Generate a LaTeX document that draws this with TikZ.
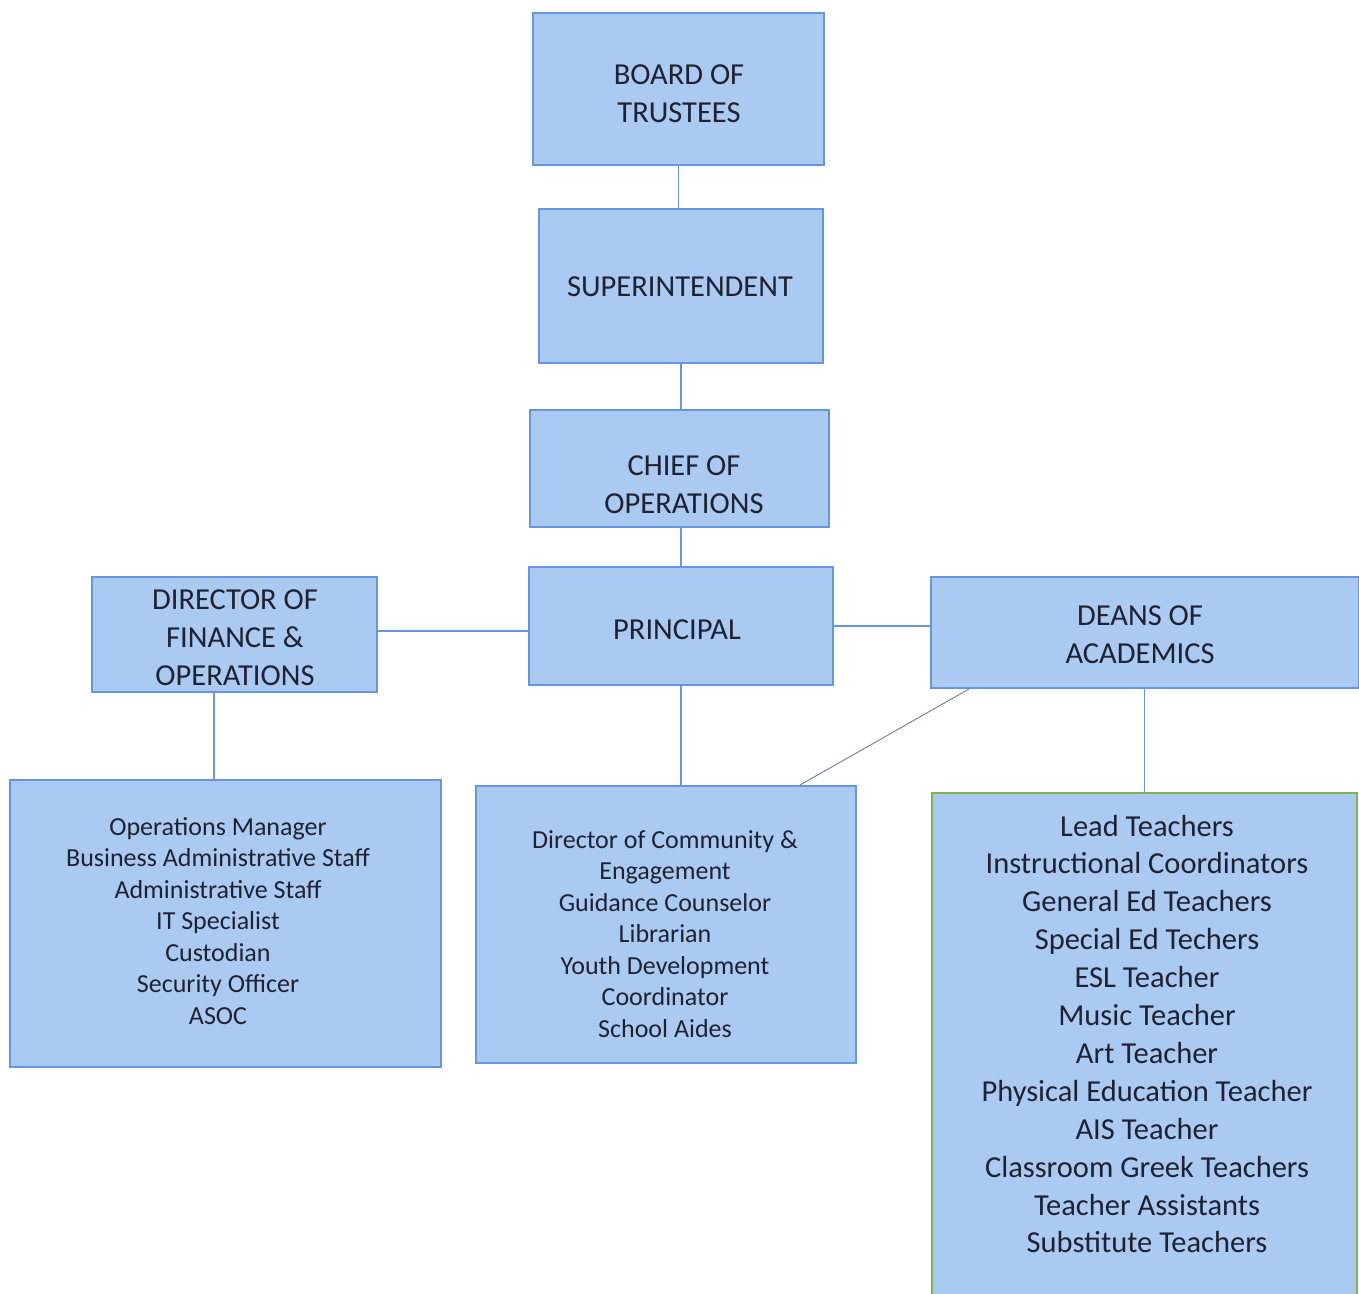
\documentclass[tikz,border=0pt]{standalone}
\usepackage{fontspec}
\setmainfont{Carlito}
\definecolor{boxfill}{RGB}{170,202,241}
\definecolor{boxline}{RGB}{100,150,225}
\definecolor{greenline}{RGB}{125,180,75}
\definecolor{txt}{RGB}{30,34,50}
\definecolor{diag}{RGB}{115,135,165}
\begin{document}
\begin{tikzpicture}[x=1pt,y=-1pt,
  box/.style={draw=boxline, line width=2pt, fill=boxfill, inner sep=0pt},
  lbl/.style={text=txt, align=center, inner sep=0pt},
  title/.style={lbl, font=\fontsize{30.5}{38}\selectfont},
  small/.style={lbl, font=\fontsize{26}{31.5}\selectfont},
  big/.style={lbl, font=\fontsize{30.5}{37.9}\selectfont},
  conn/.style={draw=boxline, line width=1.5pt},
  diagconn/.style={draw=diag, line width=1pt}]
\clip (0,0) rectangle (1359,1293);
\useasboundingbox (0,0) rectangle (1359,1293);

% boxes
\node[box, minimum width=291pt, minimum height=152pt] (board) at (678.5,89) {};
\node[box, minimum width=284pt, minimum height=154pt] (super) at (681,286) {};
\node[box, minimum width=299pt, minimum height=117pt] (chief) at (679.5,468.5) {};
\node[box, minimum width=304pt, minimum height=118pt] (principal) at (681,626) {};
\node[box, minimum width=285pt, minimum height=115pt] (director) at (234.5,634.5) {};
\node[box, minimum width=428pt, minimum height=111pt] (deans) at (1145,632.5) {};
\node[box, minimum width=431pt, minimum height=287pt] (ops) at (225.5,923.5) {};
\node[box, minimum width=380pt, minimum height=277pt] (mid) at (666,924.5) {};
\node[box, draw=greenline, minimum width=425pt, minimum height=520pt] (teach) at (1144.5,1053) {};

% texts
\node[title] (boardtxt) at (679,94) {BOARD OF\\TRUSTEES};
\node[title] (supertxt) at (680,287) {SUPERINTENDENT};
\node[title] (chieftxt) at (684,485) {CHIEF OF\\OPERATIONS};
\node[title] (principaltxt) at (677,630) {PRINCIPAL};
\node[title] (directortxt) at (235,638) {DIRECTOR OF\\FINANCE \&\\OPERATIONS};
\node[title] (deanstxt) at (1140,635) {DEANS OF\\ACADEMICS};
\node[small] (opstxt) at (218,921) {Operations Manager\\Business Administrative Staff\\Administrative Staff\\IT Specialist\\Custodian\\Security Officer\\ASOC};
\node[small] (midtxt) at (665,934) {Director of Community \&\\Engagement\\Guidance Counselor\\Librarian\\Youth Development\\Coordinator\\School Aides};
\node[big] (teachtxt) at (1147,1034) {Lead Teachers\\Instructional Coordinators\\General Ed Teachers\\Special Ed Techers\\ESL Teacher\\Music Teacher\\Art Teacher\\Physical Education Teacher\\AIS Teacher\\Classroom Greek Teachers\\Teacher Assistants\\Substitute Teachers};

% connectors
\coordinate (dl) at (214,692);
\coordinate (dr) at (377,631);
\draw[conn] (board.south) -- (board.south |- super.north);
\draw[conn] (super.south) -- (super.south |- chief.north);
\draw[conn] (principal.north) -- (principal.north |- chief.south);
\draw[conn] (dr) -- (dr -| principal.west);
\draw[conn] (principal.east) -- (principal.east -| deans.west);
\draw[conn] (dl) -- (dl |- ops.north);
\draw[conn] (principal.south) -- (principal.south |- mid.north);
\draw[conn] (teach.north) -- (teach.north |- deans.south);
\draw[diagconn] ([xshift=39pt]deans.south west) -- ([xshift=-57pt]mid.north east);
\end{tikzpicture}
\end{document}
